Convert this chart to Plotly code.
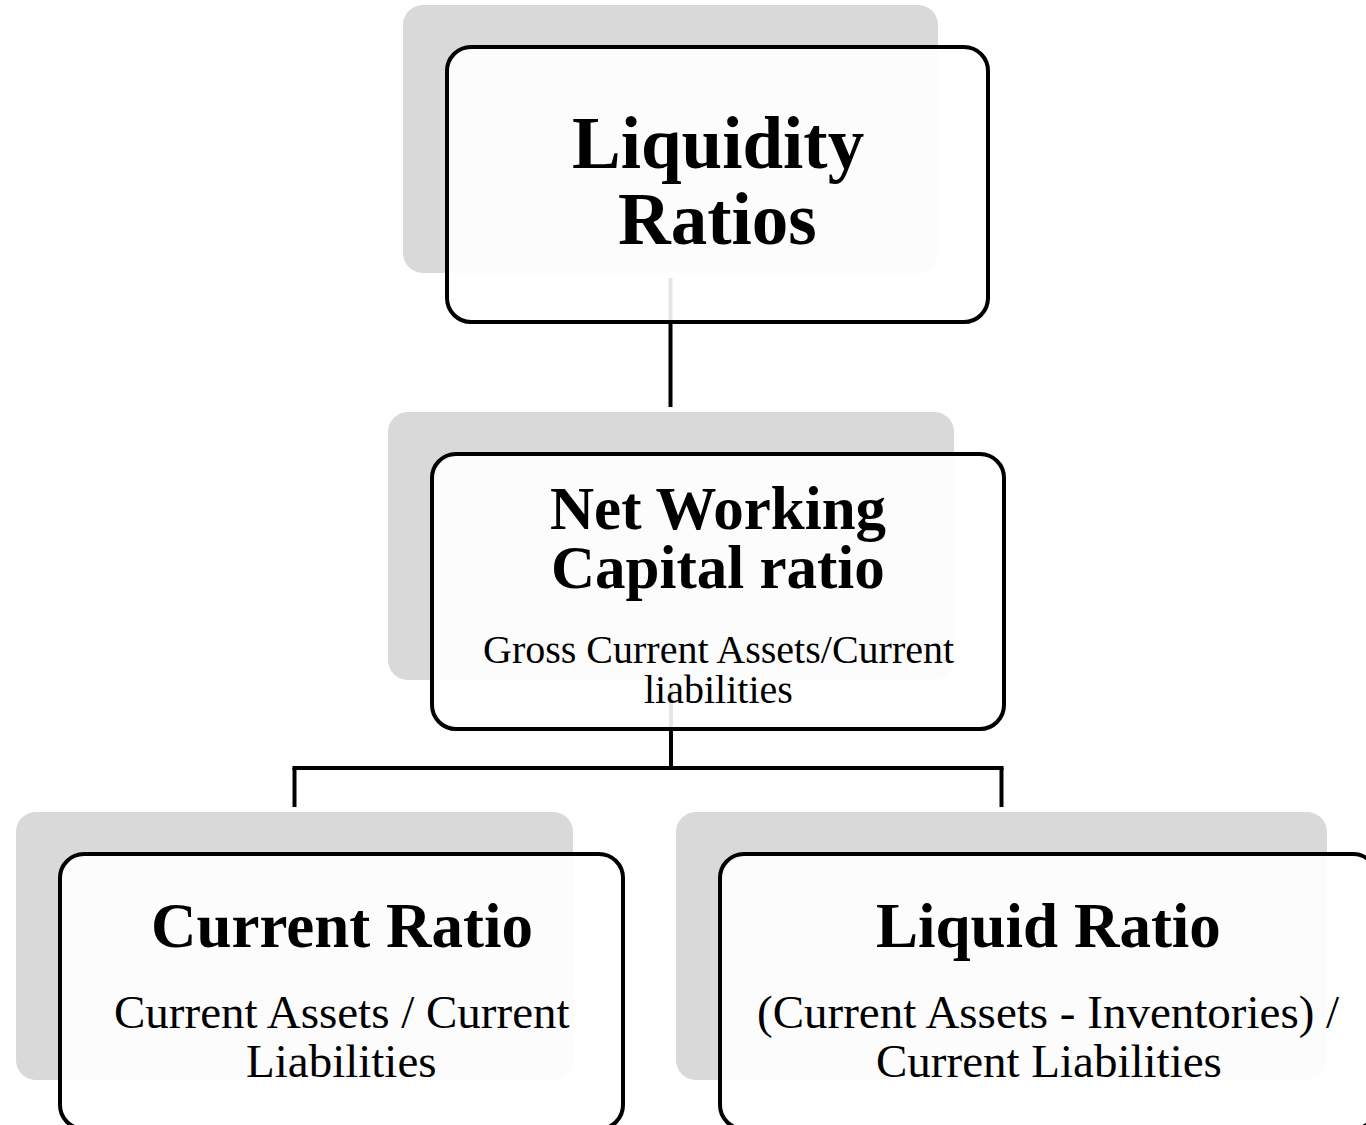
import plotly.graph_objects as go

# ---- content (text of the diagram) ----
node_ids = ["root", "nwc", "current", "liquid"]
title_lines = [
    ["Liquidity", "Ratios"],
    ["Net Working", "Capital ratio"],
    ["Current Ratio"],
    ["Liquid Ratio"],
]
formula_lines = [
    [],
    ["Gross Current Assets/Current", "liabilities"],
    ["Current Assets / Current", "Liabilities"],
    ["(Current Assets - Inventories) /", "Current Liabilities"],
]
parent = [None, 0, 1, 1]

# ---- layout (pixel space, y downward) ----
W, H = 1366, 1125
# shadow rectangles: x0, y0, x1, y1
shadow_rect = [
    (403, 5, 938, 273),
    (388, 412, 954, 680),
    (16, 812, 573, 1080),
    (676, 812, 1327, 1080),
]
box_offset = (44, 42)
box_grow = (6, 7)
# text baselines per node: title lines, formula lines
title_base = [[168, 244], [529, 588], [947], [947]]
formula_base = [[], [663, 703], [1028, 1077], [1028, 1077]]
title_size = [73, 61, 63, 63]
formula_size = [0, 40, 47, 47]
elbow_y = 768
gap = 5

FONT = "Liberation Serif, Times New Roman, serif"
SHADOW = "#D9D9D9"


def rrect(x0, y0, x1, y1, r):
    k = 0.5523 * r
    return (
        f"M {x0 + r},{y0} L {x1 - r},{y0} "
        f"C {x1 - r + k},{y0} {x1},{y0 + r - k} {x1},{y0 + r} "
        f"L {x1},{y1 - r} "
        f"C {x1},{y1 - r + k} {x1 - r + k},{y1} {x1 - r},{y1} "
        f"L {x0 + r},{y1} "
        f"C {x0 + r - k},{y1} {x0},{y1 - r + k} {x0},{y1 - r} "
        f"L {x0},{y0 + r} "
        f"C {x0},{y0 + r - k} {x0 + r - k},{y0} {x0 + r},{y0} Z"
    )


shapes = []
# shadows
for (x0, y0, x1, y1) in shadow_rect:
    shapes.append(dict(type="path", path=rrect(x0, y0, x1, y1, 20),
                       fillcolor=SHADOW, line=dict(width=0), layer="above"))

# connectors
line_style = dict(color="black", width=4)
cx = [(s[0] + s[2]) / 2 for s in shadow_rect]
# root -> nwc (straight)
shapes.append(dict(type="line", x0=cx[0], x1=cx[0],
                   y0=shadow_rect[0][3] + gap, y1=shadow_rect[1][1] - gap,
                   line=line_style))
# nwc -> children (elbow)
kids = [i for i, p in enumerate(parent) if p == 1]
shapes.append(dict(type="line", x0=cx[1], x1=cx[1],
                   y0=shadow_rect[1][3] + gap, y1=elbow_y, line=line_style))
shapes.append(dict(type="line", x0=min(cx[k] for k in kids) - 2,
                   x1=max(cx[k] for k in kids) + 2,
                   y0=elbow_y, y1=elbow_y, line=line_style))
for k in kids:
    shapes.append(dict(type="line", x0=cx[k], x1=cx[k],
                       y0=elbow_y, y1=shadow_rect[k][1] - gap,
                       line=line_style))

# white boxes
box_rect = []
for (x0, y0, x1, y1) in shadow_rect:
    bx0 = x0 + box_offset[0]
    by0 = y0 + box_offset[1]
    bx1 = x1 + box_offset[0] + box_grow[0]
    by1 = y1 + box_offset[1] + box_grow[1]
    box_rect.append((bx0, by0, bx1, by1))
    shapes.append(dict(type="path", path=rrect(bx0, by0, bx1, by1, 24),
                       fillcolor="rgba(255,255,255,0.9)",
                       line=dict(color="black", width=4), layer="above"))

annotations = []
for i in range(len(node_ids)):
    bx = (box_rect[i][0] + box_rect[i][2]) / 2
    fs = title_size[i]
    for txt, base in zip(title_lines[i], title_base[i]):
        annotations.append(dict(x=bx, y=base - 0.3375 * fs, text=txt,
                                showarrow=False, xanchor="center", yanchor="middle",
                                font=dict(family=FONT, size=fs, color="black", weight="bold")))
    fs = formula_size[i]
    for txt, base in zip(formula_lines[i], formula_base[i]):
        annotations.append(dict(x=bx, y=base - 0.3375 * fs, text=txt,
                                showarrow=False, xanchor="center", yanchor="middle",
                                font=dict(family=FONT, size=fs, color="black")))

fig = go.Figure()
fig.update_layout(
    width=W, height=H,
    margin=dict(l=0, r=0, t=0, b=0),
    paper_bgcolor="white", plot_bgcolor="white",
    xaxis=dict(range=[0, W], visible=False, fixedrange=True),
    yaxis=dict(range=[H, 0], visible=False, fixedrange=True),
    shapes=shapes, annotations=annotations,
    showlegend=False,
)
fig.write_html(
    "out.html",
    config={"displayModeBar": False},
    post_script="document.body.style.margin='0px';document.body.style.overflow='hidden';",
)
